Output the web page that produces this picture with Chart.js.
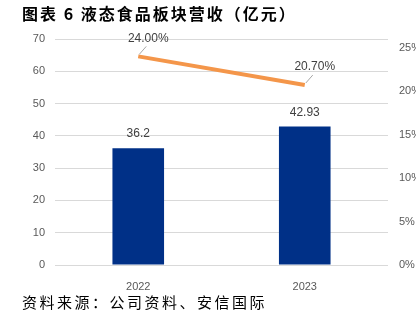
<!DOCTYPE html>
<html><head><meta charset="utf-8">
<script src="https://cdn.jsdelivr.net/npm/chart.js@4.4.0/dist/chart.umd.min.js"></script>
<style>
html,body{margin:0;padding:0;background:#fff;}
#wrap{position:relative;width:416px;height:325px;overflow:hidden;}
#title{position:absolute;left:22px;top:1px;font:bold 16px "Noto Sans CJK SC";color:#000;white-space:nowrap;letter-spacing:2px;}
#src{position:absolute;left:22px;top:291px;font:15px "Noto Sans CJK SC";color:#000;white-space:nowrap;letter-spacing:2.5px;}
#cv{position:absolute;left:0;top:0;}
</style></head><body>
<div id="wrap">
<canvas id="cv" width="416" height="325"></canvas>
<div id="title">图表 6 液态食品板块营收（亿元）</div>
<div id="src">资料来源：公司资料、安信国际</div>
</div>
<script>
const categories = ["2022", "2023"];
const revenue = [36.2, 42.93];
const revenueLabels = ["36.2", "42.93"];
const marginPct = [24.00, 20.70];
const marginLabels = ["24.00%", "20.70%"];
const leftTicks = [0, 10, 20, 30, 40, 50, 60, 70];
const rightTicks = [0, 5, 10, 15, 20, 25];

const labelPlugin = {
  id: 'labels',
  afterDatasetsDraw(chart) {
    const ctx = chart.ctx;
    ctx.save();
    ctx.font = '12px "Liberation Sans"';
    ctx.fillStyle = '#404040';
    ctx.textAlign = 'center';
    ctx.textBaseline = 'bottom';
    const barMeta = chart.getDatasetMeta(0);
    barMeta.data.forEach((el, i) => {
      ctx.fillText(revenueLabels[i], el.x, el.y - 8);
    });
    const lineMeta = chart.getDatasetMeta(1);
    lineMeta.data.forEach((el, i) => {
      ctx.strokeStyle = '#a6a6a6';
      ctx.lineWidth = 1;
      ctx.beginPath();
      ctx.moveTo(el.x + 1, el.y - 2);
      ctx.lineTo(el.x + 8, el.y - 10);
      ctx.stroke();
      ctx.fillText(marginLabels[i], el.x + 10, el.y - 12);
    });
    ctx.restore();
  }
};

new Chart(document.getElementById('cv'), {
  data: {
    labels: categories,
    datasets: [
      {type: 'bar', data: revenue, backgroundColor: '#003087', yAxisID: 'y', barPercentage: 0.31, categoryPercentage: 1, order: 2},
      {type: 'line', data: marginPct, borderColor: '#F4964A', borderWidth: 4, pointRadius: 0, yAxisID: 'y1', tension: 0, order: 1}
    ]
  },
  options: {
    responsive: false,
    animation: false,
    layout: {padding: {top: 39, bottom: 0, left: 0, right: 0}},
    plugins: {legend: {display: false}, tooltip: {enabled: false}},
    scales: {
      x: {
        grid: {display: false}, border: {display: false},
        ticks: {color: '#595959', font: {family: 'Liberation Sans', size: 11}, padding: 7},
        afterFit(s) { s.height = 60; }
      },
      y: {
        position: 'left', min: 0, max: 70,
        afterBuildTicks(s) { s.ticks = leftTicks.map(v => ({value: v})); },
        grid: {color: '#d9d9d9', drawTicks: false}, border: {display: false},
        ticks: {color: '#595959', font: {family: 'Liberation Sans', size: 11}, padding: 10},
        afterFit(s) { s.width = 55; }
      },
      y1: {
        position: 'right', min: 0, max: 26,
        afterBuildTicks(s) { s.ticks = rightTicks.map(v => ({value: v})); },
        grid: {display: false, drawTicks: false}, border: {display: false},
        ticks: {color: '#595959', font: {family: 'Liberation Sans', size: 11}, padding: 11, callback: v => v + '%'},
        afterFit(s) { s.width = 28; }
      }
    }
  },
  plugins: [labelPlugin]
});
</script>
</body></html>
